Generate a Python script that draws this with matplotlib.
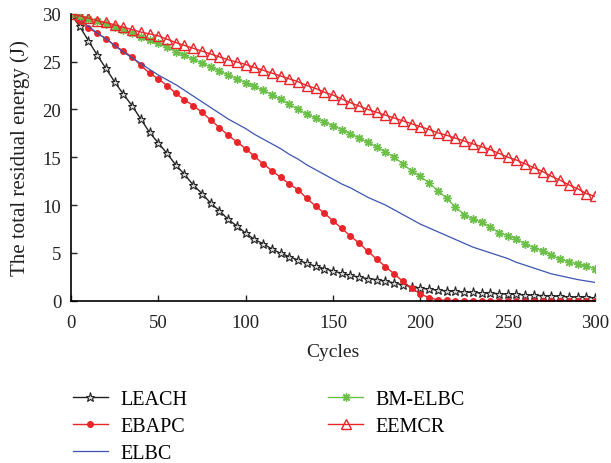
import matplotlib
matplotlib.use("Agg")
import matplotlib.pyplot as plt
import numpy as np

cycles = list(range(0, 301, 5))

leach = [30, 28.7, 27.2, 25.7, 24.3, 22.9, 21.6, 20.4, 19.0, 17.6,
         16.5, 15.4, 14.2, 13.2, 12.1, 11.2, 10.2, 9.4, 8.5, 7.8,
         7.05, 6.4, 5.95, 5.4, 4.95, 4.6, 4.25, 3.9, 3.6, 3.35,
         3.1, 2.85, 2.65, 2.45, 2.3, 2.2, 2.05, 1.85, 1.65, 1.45,
         1.3, 1.2, 1.1, 1.02, 0.96, 0.9, 0.85, 0.8, 0.76, 0.73,
         0.7, 0.65, 0.6, 0.56, 0.52, 0.48, 0.44, 0.4, 0.36, 0.33, 0.3]

ebapc = [30, 29.2, 28.5, 28.0, 27.4, 26.7, 26.1, 25.5, 24.6, 23.8,
         23.2, 22.5, 21.7, 21.0, 20.4, 19.7, 18.9, 18.1, 17.3, 16.6,
         15.9, 15.1, 14.3, 13.6, 12.9, 12.2, 11.6, 10.7, 9.9, 9.15,
         8.35, 7.55, 6.75, 6.0, 5.15, 4.35, 3.55, 2.8, 2.0, 1.3,
         0.7, 0.3, 0.08, 0.02, 0, 0, 0, 0, 0, 0,
         0, 0, 0, 0, 0, 0, 0, 0, 0, 0, 0]

elbc = [30, 29.4, 28.7, 28.0, 27.4, 26.7, 26.0, 25.4, 24.8, 24.2,
        23.6, 23.1, 22.6, 22.0, 21.4, 20.8, 20.2, 19.6, 19.0, 18.5,
        18.0, 17.4, 16.9, 16.4, 15.9, 15.3, 14.8, 14.2, 13.7, 13.2,
        12.7, 12.2, 11.8, 11.3, 10.8, 10.4, 10.0, 9.5, 9.0, 8.5,
        8.0, 7.6, 7.2, 6.8, 6.4, 6.0, 5.6, 5.3, 5.0, 4.7,
        4.4, 4.0, 3.7, 3.4, 3.1, 2.8, 2.6, 2.4, 2.2, 2.05, 1.9]

bm_elbc = [30, 29.75, 29.5, 29.25, 28.95, 28.65, 28.3, 27.95, 27.6, 27.25,
           26.9, 26.5, 26.05, 25.65, 25.25, 24.85, 24.45, 24.0, 23.6, 23.2,
           22.8, 22.4, 22.0, 21.55, 21.05, 20.55, 20.0, 19.5, 19.1, 18.7,
           18.3, 17.9, 17.45, 17.0, 16.55, 16.1, 15.55, 15.0, 14.3, 13.55,
           13.0, 12.3, 11.5, 10.7, 9.8, 9.0, 8.55, 8.2, 7.7, 7.1,
           6.8, 6.45, 5.9, 5.55, 5.2, 4.75, 4.35, 4.05, 3.85, 3.6, 3.35]

eemcr = [30, 29.8, 29.55, 29.3, 29.1, 28.85, 28.6, 28.35, 28.1, 27.9,
         27.7, 27.35, 27.0, 26.7, 26.4, 26.1, 25.8, 25.5, 25.2, 24.95,
         24.7, 24.4, 24.1, 23.8, 23.5, 23.2, 22.9, 22.5, 22.2, 21.8,
         21.5, 21.1, 20.7, 20.35, 20.0, 19.7, 19.4, 19.1, 18.8, 18.5,
         18.2, 17.9, 17.55, 17.3, 17.0, 16.7, 16.4, 16.1, 15.8, 15.4,
         15.0, 14.7, 14.3, 13.9, 13.5, 13.0, 12.6, 12.1, 11.7, 11.2, 10.9]

plt.rcParams['font.family'] = ['Liberation Serif', 'DejaVu Serif']

fig = plt.figure(figsize=(6.11, 4.64), dpi=100)
ax = fig.add_axes([0.116, 0.35, 0.858, 0.618])

red = '#e8262a'
green = '#6cc04a'
blue = '#3b55b0'

ax.plot(cycles, leach, color='#222222', lw=1.0, marker='*', ms=6.5,
        mfc='#d8d8d8', mec='#222222', mew=0.8, label='LEACH')
ax.plot(cycles, ebapc, color=red, lw=1.0, marker='o', ms=4,
        mfc=red, mec=red, label='EBAPC')
ax.plot(cycles, elbc, color=blue, lw=0.9, label='ELBC')
ax.plot(cycles, bm_elbc, color=green, lw=1.0, marker=(8, 2, 0), ms=6,
        mec=green, mew=1.0, label='BM-ELBC')
ax.plot(cycles, eemcr, color=red, lw=1.0, marker='^', ms=7,
        mfc='none', mec=red, mew=1.0, label='EEMCR')

ax.set_xlim(0, 300)
ax.set_ylim(0, 30)
ax.set_xticks(range(0, 301, 50))
ax.set_yticks(range(0, 31, 5))
ax.spines['top'].set_visible(False)
ax.spines['right'].set_visible(False)
ax.spines['left'].set_linewidth(1.2)
ax.spines['bottom'].set_linewidth(1.2)
ax.tick_params(direction='in', length=4, width=1, labelsize=13.5, colors='#222222')
ax.tick_params(axis='x', pad=10)
ax.tick_params(axis='y', pad=7)
ax.set_xlabel('Cycles', fontsize=14, color='#222222', labelpad=8)
ax.set_ylabel('The total residual energy (J)', fontsize=15, color='#222222', labelpad=9)

leg = fig.legend(loc='upper left', bbox_to_anchor=(0.106, 0.174), ncol=2,
                 frameon=False, fontsize=14.5, handlelength=1.75,
                 columnspacing=7.0, labelspacing=0.38, handletextpad=0.6,
                 borderaxespad=0)
fig.savefig('out.png', dpi=100)
